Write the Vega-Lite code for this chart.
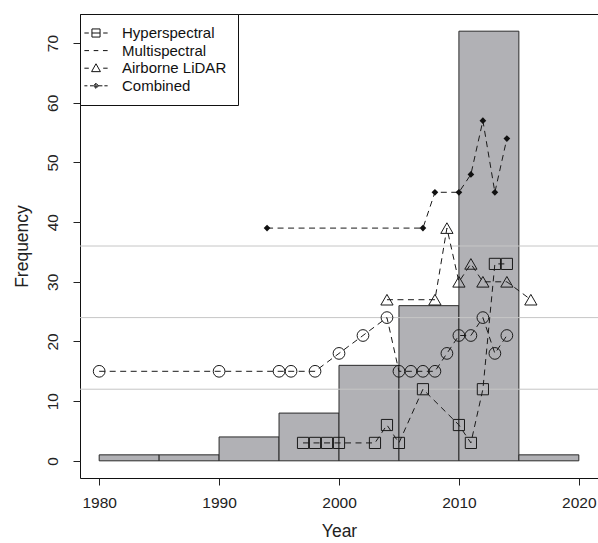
{
  "$schema": "https://vega.github.io/schema/vega-lite/v6.json",
  "width": 518,
  "height": 464,
  "autosize": {"type": "none"},
  "padding": {"left": 80, "top": 14, "right": 0, "bottom": 65},
  "background": "white",
  "config": {
    "font": "Liberation Sans",
    "view": {"stroke": "#111", "strokeWidth": 1},
    "axis": {
      "domain": false,
      "grid": false,
      "tickColor": "#222",
      "tickSize": 7,
      "labelFont": "Liberation Sans",
      "labelFontSize": 15.5,
      "labelColor": "#222",
      "titleFont": "Liberation Sans",
      "titleFontSize": 17.5,
      "titleFontWeight": "normal",
      "titleColor": "#222"
    }
  },
  "datasets": {
    "bars": [
      {"start": 1980, "end": 1985, "count": 1},
      {"start": 1985, "end": 1990, "count": 1},
      {"start": 1990, "end": 1995, "count": 4},
      {"start": 1995, "end": 2000, "count": 8},
      {"start": 2000, "end": 2005, "count": 16},
      {"start": 2005, "end": 2010, "count": 26},
      {"start": 2010, "end": 2015, "count": 72},
      {"start": 2015, "end": 2020, "count": 1}
    ],
    "levels": [{"level": 12}, {"level": 24}, {"level": 36}],
    "series": [
      {"series": "Hyperspectral", "year": 1997, "value": 3},
      {"series": "Hyperspectral", "year": 1998, "value": 3},
      {"series": "Hyperspectral", "year": 1999, "value": 3},
      {"series": "Hyperspectral", "year": 2000, "value": 3},
      {"series": "Hyperspectral", "year": 2003, "value": 3},
      {"series": "Hyperspectral", "year": 2004, "value": 6},
      {"series": "Hyperspectral", "year": 2005, "value": 3},
      {"series": "Hyperspectral", "year": 2007, "value": 12},
      {"series": "Hyperspectral", "year": 2010, "value": 6},
      {"series": "Hyperspectral", "year": 2011, "value": 3},
      {"series": "Hyperspectral", "year": 2012, "value": 12},
      {"series": "Hyperspectral", "year": 2013, "value": 33},
      {"series": "Hyperspectral", "year": 2014, "value": 33},
      {"series": "Multispectral", "year": 1980, "value": 15},
      {"series": "Multispectral", "year": 1990, "value": 15},
      {"series": "Multispectral", "year": 1995, "value": 15},
      {"series": "Multispectral", "year": 1996, "value": 15},
      {"series": "Multispectral", "year": 1998, "value": 15},
      {"series": "Multispectral", "year": 2000, "value": 18},
      {"series": "Multispectral", "year": 2002, "value": 21},
      {"series": "Multispectral", "year": 2004, "value": 24},
      {"series": "Multispectral", "year": 2005, "value": 15},
      {"series": "Multispectral", "year": 2006, "value": 15},
      {"series": "Multispectral", "year": 2007, "value": 15},
      {"series": "Multispectral", "year": 2008, "value": 15},
      {"series": "Multispectral", "year": 2009, "value": 18},
      {"series": "Multispectral", "year": 2010, "value": 21},
      {"series": "Multispectral", "year": 2011, "value": 21},
      {"series": "Multispectral", "year": 2012, "value": 24},
      {"series": "Multispectral", "year": 2013, "value": 18},
      {"series": "Multispectral", "year": 2014, "value": 21},
      {"series": "Airborne LiDAR", "year": 2004, "value": 27},
      {"series": "Airborne LiDAR", "year": 2008, "value": 27},
      {"series": "Airborne LiDAR", "year": 2009, "value": 39},
      {"series": "Airborne LiDAR", "year": 2010, "value": 30},
      {"series": "Airborne LiDAR", "year": 2011, "value": 33},
      {"series": "Airborne LiDAR", "year": 2012, "value": 30},
      {"series": "Airborne LiDAR", "year": 2014, "value": 30},
      {"series": "Airborne LiDAR", "year": 2016, "value": 27},
      {"series": "Combined", "year": 1994, "value": 39},
      {"series": "Combined", "year": 2007, "value": 39},
      {"series": "Combined", "year": 2008, "value": 45},
      {"series": "Combined", "year": 2010, "value": 45},
      {"series": "Combined", "year": 2011, "value": 48},
      {"series": "Combined", "year": 2012, "value": 57},
      {"series": "Combined", "year": 2013, "value": 45},
      {"series": "Combined", "year": 2014, "value": 54}
    ]
  },
  "layer": [
    {
      "data": {"name": "bars"},
      "mark": {"type": "bar", "fill": "#b1b1b5", "stroke": "#2a2a2a", "strokeWidth": 1},
      "encoding": {
        "x": {
          "field": "start", "type": "quantitative",
          "scale": {"domain": [1978.4, 2021.6], "nice": false, "zero": false},
          "axis": {
            "values": [1980, 1990, 2000, 2010, 2020],
            "format": "d",
            "labelPadding": 10,
            "labelFlush": false,
            "labelOverlap": false,
            "title": "Year",
            "titlePadding": 12
          }
        },
        "x2": {"field": "end"},
        "y": {
          "field": "count", "type": "quantitative",
          "scale": {"domain": [-2.88, 74.88], "nice": false, "zero": false},
          "axis": {
            "values": [0, 10, 20, 30, 40, 50, 60, 70],
            "labelAngle": 270,
            "labelAlign": "center",
            "labelBaseline": "alphabetic",
            "labelPadding": 16,
            "title": "Frequency",
            "titlePadding": 14
          }
        },
        "y2": {"datum": 0}
      }
    },
    {
      "data": {"name": "levels"},
      "mark": {"type": "rule", "color": "#c6c6c6", "strokeWidth": 1},
      "encoding": {"y": {"field": "level", "type": "quantitative"}}
    },
    {
      "data": {"name": "series"},
      "mark": {"type": "line", "color": "#1a1a1a", "strokeWidth": 1, "strokeDash": [6, 4.5]},
      "encoding": {
        "x": {"field": "year", "type": "quantitative"},
        "y": {"field": "value", "type": "quantitative"},
        "detail": {"field": "series"}
      }
    },
    {
      "data": {"name": "series"},
      "transform": [{"filter": "datum.series !== 'Combined'"}],
      "mark": {"type": "point", "filled": false, "stroke": "#1a1a1a", "strokeWidth": 1, "opacity": 1},
      "encoding": {
        "x": {"field": "year", "type": "quantitative"},
        "y": {"field": "value", "type": "quantitative"},
        "shape": {
          "field": "series", "type": "nominal",
          "scale": {"domain": ["Hyperspectral", "Multispectral", "Airborne LiDAR"], "range": ["square", "circle", "triangle-up"]},
          "legend": null
        },
        "size": {
          "field": "series", "type": "nominal",
          "scale": {"domain": ["Hyperspectral", "Multispectral", "Airborne LiDAR"], "range": [125, 150, 190]},
          "legend": null
        }
      }
    },
    {
      "data": {"name": "series"},
      "transform": [{"filter": "datum.series === 'Combined'"}],
      "mark": {"type": "point", "shape": "diamond", "filled": true, "color": "#111", "size": 45, "opacity": 1},
      "encoding": {
        "x": {"field": "year", "type": "quantitative"},
        "y": {"field": "value", "type": "quantitative"}
      }
    },
    {
      "data": {"name": "series"},
      "transform": [{"filter": "false"}],
      "mark": {"type": "point", "filled": false, "color": "#111", "strokeWidth": 1, "size": 225, "opacity": 1},
      "encoding": {
        "x": {"field": "year", "type": "quantitative"},
        "y": {"field": "value", "type": "quantitative"},
        "shape": {
          "field": "series", "type": "nominal",
          "scale": {
            "domain": ["Hyperspectral", "Multispectral", "Airborne LiDAR", "Combined"],
            "range": [
              "M-1.55,0L-0.96,0M-0.54,-0.54L0.54,-0.54L0.54,0.54L-0.54,0.54ZM-0.54,0L0.54,0M0.96,0L1.55,0",
              "M-1.55,0L-0.93,0M-0.31,0L0.31,0M0.93,0L1.55,0",
              "M-1.55,0L-0.96,0M0,-0.59L0.59,0.46L-0.59,0.46ZM0.96,0L1.55,0",
              "M-1.55,0L-1.15,0M-0.8,0L-0.4,0M0,-0.34L0.34,0L0,0.34L-0.34,0ZM0,-0.19L0.19,0L0,0.19L-0.19,0ZM-0.08,0L0.08,0M0.31,0L0.85,0M1.12,0L1.55,0"
            ]
          },
          "legend": {
            "title": null,
            "orient": "top-left", "offset": 0, "padding": 11,
            "strokeColor": "#111", "fillColor": "white",
            "labelFont": "Liberation Sans", "labelFontSize": 15, "labelColor": "#111",
            "symbolSize": 225, "symbolStrokeColor": "#111", "symbolStrokeWidth": 1,
            "symbolFillColor": "transparent",
            "symbolOpacity": 1, "symbolOffset": -3, "labelOffset": 18, "rowPadding": 1.6
          }
        }
      }
    }
  ],
  "resolve": {"scale": {"shape": "independent"}}
}
